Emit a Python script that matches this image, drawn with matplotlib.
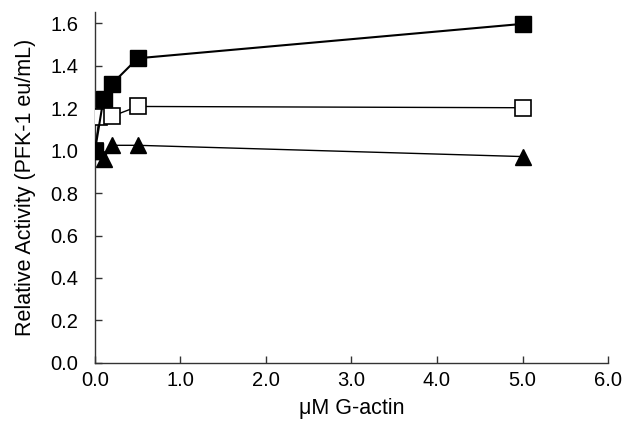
import matplotlib
matplotlib.use("Agg")
import matplotlib.pyplot as plt

plt.rcParams['font.family'] = ['Liberation Sans', 'DejaVu Sans']

# G-actin concentrations (uM) and relative PFK-1 activity for each condition
actin_filled = [0.0, 0.1, 0.2, 0.5, 5.0]
activity_filled = [1.00, 1.245, 1.315, 1.435, 1.597]

actin_open = [0.0, 0.05, 0.2, 0.5, 5.0]
activity_open = [1.00, 1.158, 1.162, 1.208, 1.202]

actin_tri = [0.0, 0.1, 0.2, 0.5, 5.0]
activity_tri = [1.00, 0.962, 1.025, 1.025, 0.972]

x_ticks = [0.0, 1.0, 2.0, 3.0, 4.0, 5.0, 6.0]
y_ticks = [0.0, 0.2, 0.4, 0.6, 0.8, 1.0, 1.2, 1.4, 1.6]

fig = plt.figure(figsize=(6.34, 4.21), dpi=100)
ax = fig.add_axes([0.1498, 0.138, 0.8092, 0.833])

ax.plot(actin_open, activity_open, color='black', lw=1.0, marker='s',
        markersize=11, markerfacecolor='white', markeredgecolor='black',
        markeredgewidth=1.2, zorder=3)
ax.plot(actin_filled, activity_filled, color='black', lw=1.5, marker='s',
        markersize=11, markerfacecolor='black', markeredgecolor='black',
        zorder=4)
ax.plot(actin_tri, activity_tri, color='black', lw=1.0, marker='^',
        markersize=12, markerfacecolor='black', markeredgecolor='black',
        zorder=5)

ax.set_xlim(0, 6.0)
ax.set_ylim(0, 1.652)
ax.set_xticks(x_ticks)
ax.set_yticks(y_ticks)
ax.set_xticklabels([f"{v:.1f}" for v in x_ticks])
ax.set_yticklabels([f"{v:.1f}" for v in y_ticks])

for side in ('top', 'right'):
    ax.spines[side].set_visible(False)
for side in ('left', 'bottom'):
    ax.spines[side].set_linewidth(1.0)
    ax.spines[side].set_color('#333333')

ax.tick_params(axis='both', direction='in', length=5, width=1.0,
               colors='#333333', labelcolor='black', labelsize=14.5)
ax.tick_params(axis='y', pad=12)
ax.tick_params(axis='x', pad=5.5)

ax.set_xlabel("μM G-actin", fontsize=15.5, labelpad=6)
ax.set_ylabel("Relative Activity (PFK-1 eu/mL)", fontsize=15.5, labelpad=10)

fig.savefig("out.png", dpi=100)
